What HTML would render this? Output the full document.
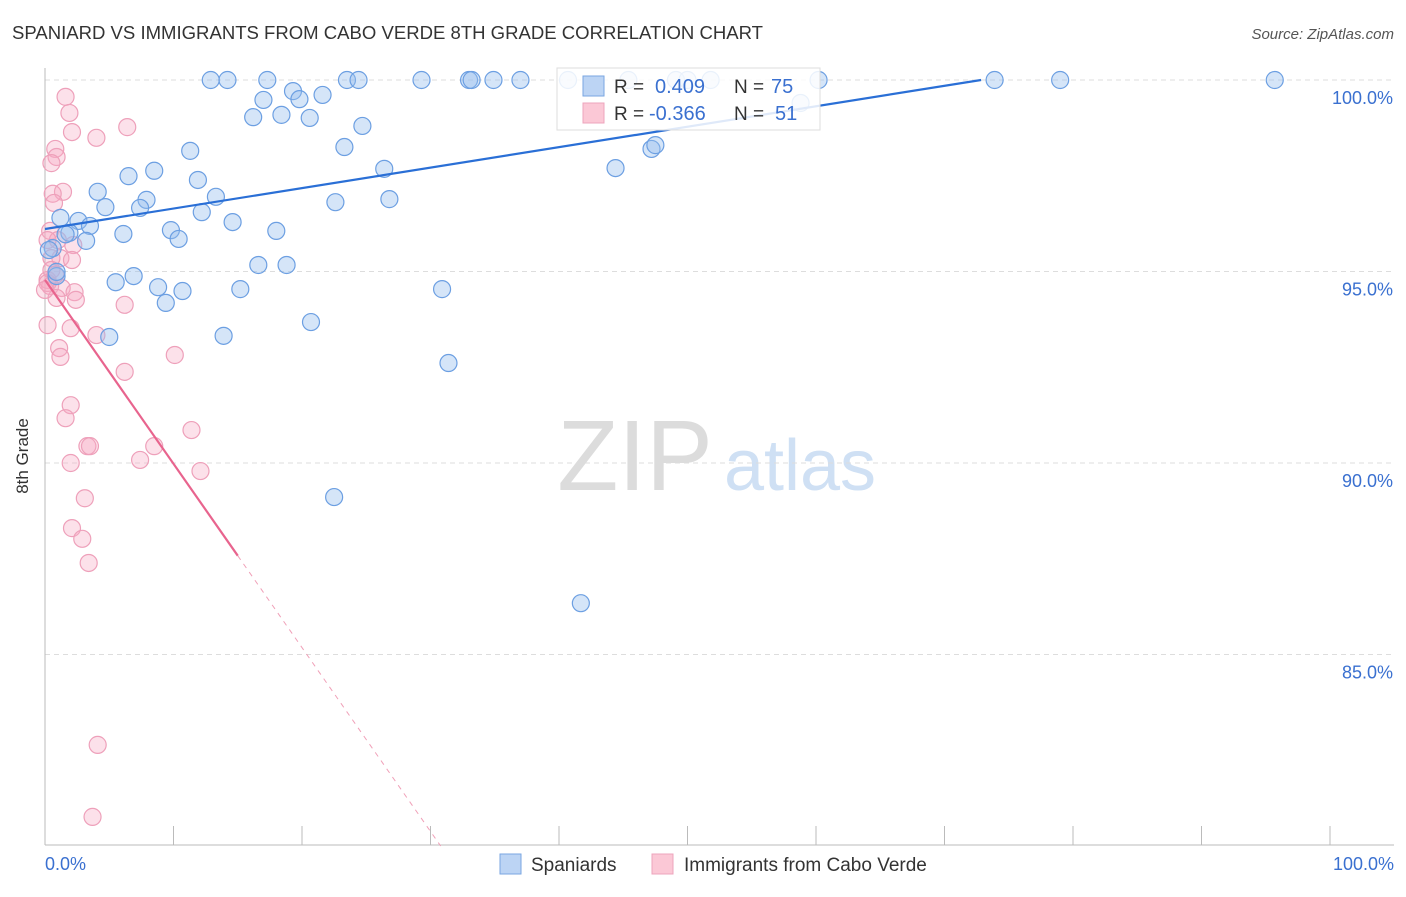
<!DOCTYPE html>
<html><head><meta charset="utf-8"><style>
body{margin:0;background:#fff;font-family:"Liberation Sans",sans-serif}
svg text{font-family:"Liberation Sans",sans-serif}
</style></head><body>
<svg width="1406" height="892" viewBox="0 0 1406 892">
<text x="12" y="39" font-size="18" fill="#333" textLength="751" lengthAdjust="spacingAndGlyphs">SPANIARD VS IMMIGRANTS FROM CABO VERDE 8TH GRADE CORRELATION CHART</text>
<text x="1394" y="39" font-size="15" fill="#555" text-anchor="end" font-style="italic">Source: ZipAtlas.com</text>
<g>
<text x="635" y="490" font-size="100" fill="#dcdcdc" font-family="Liberation Serif" text-anchor="middle">ZIP</text>
<text x="800" y="490" font-size="72" fill="#cfe0f4" text-anchor="middle">atlas</text>
</g>
<g id="grid"></g>
<g id="axes"></g>
<g id="marks"></g>
<text x="28" y="456" font-size="17" fill="#333" transform="rotate(-90 28 456)" text-anchor="middle">8th Grade</text>
<text x="45" y="870" font-size="18" fill="#3a70d0">0.0%</text>
<text x="1394" y="870" font-size="18" fill="#3a70d0" text-anchor="end">100.0%</text>
<g>
<rect x="557" y="68" width="263" height="62" fill="#fff" fill-opacity="0.85" stroke="#ddd"/>
<rect x="583" y="76" width="21" height="20" fill="#bcd4f4" stroke="#7aa6e2"/>
<rect x="583" y="103" width="21" height="20" fill="#fbc8d6" stroke="#eea4bc"/>
<text x="614" y="93" font-size="19" fill="#333">R = </text><text x="655" y="93" font-size="20" fill="#3a70d0">0.409</text>
<text x="734" y="93" font-size="19" fill="#333">N = </text><text x="771" y="93" font-size="20" fill="#3a70d0">75</text>
<text x="614" y="120" font-size="19" fill="#333">R = </text><text x="649" y="120" font-size="20" fill="#3a70d0">-0.366</text>
<text x="734" y="120" font-size="19" fill="#333">N = </text><text x="775" y="120" font-size="20" fill="#3a70d0">51</text>
</g>
<g>
<rect x="500" y="854" width="21" height="20" fill="#bcd4f4" stroke="#7aa6e2"/>
<text x="531" y="871" font-size="19" fill="#333">Spaniards</text>
<rect x="652" y="854" width="21" height="20" fill="#fbc8d6" stroke="#eea4bc"/>
<text x="684" y="871" font-size="19" fill="#333">Immigrants from Cabo Verde</text>
</g>
</svg>
<script>
const blueX=[12.9,14.2,17.3,23.5,24.4,29.3,33.0,33.2,34.9,37.0,40.7,45.4,49.1,50.0,51.8,60.2,73.9,79.0,95.7,19.3,21.6,17.0,19.8,16.2,18.4,20.6,24.7,23.3,11.3,26.4,8.5,6.5,11.9,4.1,13.3,7.9,26.8,4.7,7.4,22.6,12.2,14.6,1.2,2.6,3.5,9.8,18.0,6.1,1.9,10.4,3.2,0.6,16.6,18.8,0.9,6.9,5.5,8.8,15.2,10.7,30.9,9.4,20.7,13.9,5.0,31.4,22.5,41.7,44.4,47.2,47.5,58.8,0.9,0.3,1.6];
const blueY=[100,100,100,100,100,100,100,100,100,100,100,100,100,100,100,100,100,100,100,99.71,99.61,99.48,99.50,99.03,99.09,99.01,98.80,98.25,98.15,97.68,97.63,97.49,97.39,97.08,96.95,96.87,96.89,96.68,96.66,96.81,96.55,96.29,96.40,96.32,96.19,96.08,96.06,95.98,96.01,95.85,95.80,95.61,95.17,95.17,94.88,94.88,94.72,94.59,94.54,94.49,94.54,94.18,93.68,93.32,93.29,92.61,89.11,86.34,97.70,98.20,98.30,99.40,94.99,95.56,95.97];
const pinkX=[1.6,1.9,2.1,4.0,6.4,0.8,0.9,0.5,1.4,0.6,0.7,0.4,1.0,2.2,0.2,1.2,0.5,2.1,0.2,0.4,1.3,2.3,2.4,0.9,6.2,0.2,2.0,4.0,1.1,1.2,10.1,6.2,2.0,1.6,11.4,3.3,3.5,8.5,2.0,7.4,12.1,3.1,2.1,2.9,3.4,4.1,3.7,0.2,0.5,0.8,0.0];
const pinkY=[99.56,99.14,98.64,98.49,98.77,98.20,97.99,97.83,97.08,97.03,96.79,96.06,95.82,95.69,95.82,95.35,95.35,95.30,94.78,94.62,94.57,94.46,94.26,94.31,94.13,93.60,93.52,93.34,93.00,92.77,92.82,92.38,91.51,91.17,90.86,90.44,90.44,90.44,90.00,90.08,89.79,89.08,88.30,88.02,87.39,82.64,80.76,94.70,95.04,94.91,94.52];
const yTicks=[100,95,90,85];
const yTickLabels=["100.0%","95.0%","90.0%","85.0%"];
const blueFit=[96.11,0.0534];
const pinkFit=[94.78,-0.48];
const X0=45,X1=1330,Y100=80,PXPER=38.3;
const sx=v=>X0+(X1-X0)*v/100;
const sy=v=>Y100+(100-v)*PXPER;
const NS="http://www.w3.org/2000/svg";
function mk(tag,attrs,parent){const e=document.createElementNS(NS,tag);for(const k in attrs)e.setAttribute(k,attrs[k]);parent.appendChild(e);return e;}
const grid=document.getElementById('grid'),axes=document.getElementById('axes'),marks=document.getElementById('marks');
yTicks.forEach((t,i)=>{
 const l=mk('line',{x1:X0,x2:1394,y1:sy(t),y2:sy(t),stroke:'#ddd','stroke-dasharray':'5,4'},grid);
 
 
 const tx=mk('text',{x:1393,y:sy(t)+24,'font-size':18,fill:'#3a70d0','text-anchor':'end'},grid);
 tx.textContent=yTickLabels[i];
 
 
});
const ya=mk('line',{x1:X0,x2:X0,y1:68,y2:845,stroke:'#bbb'},axes);


const xa=mk('line',{x1:X0,x2:1394,y1:845,y2:845,stroke:'#bbb'},axes);


for(let i=0;i<=10;i++){
 const t=mk('line',{x1:sx(i*10),x2:sx(i*10),y1:826,y2:845,stroke:'#bbb'},axes);
 
 
}
function dot(x,y,fill,stroke,name){
 const c=mk('circle',{cx:sx(x),cy:sy(y),r:8.5,fill:fill,stroke:stroke,'stroke-width':1.2},marks);
 
 
}
pinkX.forEach((x,i)=>dot(x,pinkY[i],'rgba(246,168,194,0.35)','#eea0ba','point-caboverde'));
blueX.forEach((x,i)=>dot(x,blueY[i],'rgba(150,190,238,0.4)','#6c9fe2','point-spaniard'));
const bxEnd=(100-blueFit[0])/blueFit[1];
const bl=mk('line',{x1:sx(0),y1:sy(blueFit[0]),x2:sx(bxEnd),y2:sy(100),stroke:'#2a6fd6','stroke-width':2.2},marks);


const pSolidEnd=15,pDashEnd=(80-pinkFit[0])/pinkFit[1];
const pl=mk('line',{x1:sx(0),y1:sy(pinkFit[0]),x2:sx(pSolidEnd),y2:sy(pinkFit[0]+pinkFit[1]*pSolidEnd),stroke:'#e8648e','stroke-width':2.2},marks);


const pd=mk('line',{x1:sx(pSolidEnd),y1:sy(pinkFit[0]+pinkFit[1]*pSolidEnd),x2:sx(pDashEnd),y2:sy(80),stroke:'#f0a0b8','stroke-width':1,'stroke-dasharray':'5,5'},marks);


</script>
</body></html>
